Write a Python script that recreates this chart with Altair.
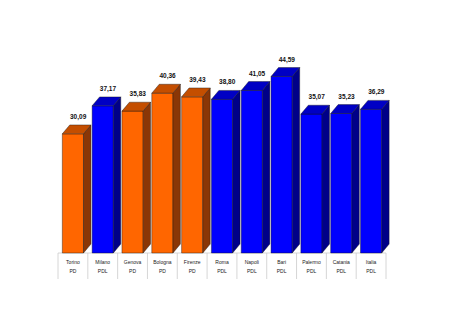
import altair as alt
import pandas as pd

cities = ["Torino", "Milano", "Genova", "Bologna", "Firenze", "Roma", "Napoli", "Bari", "Palermo", "Catania", "Italia"]
parties = ["PD", "PDL", "PD", "PD", "PD", "PDL", "PDL", "PDL", "PDL", "PDL", "PDL"]
values = [30.09, 37.17, 35.83, 40.36, 39.43, 38.80, 41.05, 44.59, 35.07, 35.23, 36.29]

colors = {
    "PD": {"front": "#FF6600", "side": "#8A3606", "top": "#C44E00"},
    "PDL": {"front": "#0000FF", "side": "#000088", "top": "#0000C4"},
}

half = 0.355   # half width of bar front (category units)
dx = 0.25      # depth in x (category units)
dy = 2.25      # depth in y (data units)

front_rows, face_rows, label_rows = [], [], []
for i, (c, p, v) in enumerate(zip(cities, parties, values)):
    L, R = i - half, i + half
    col = colors[p]
    front_rows.append({"x": L, "x2": R, "y": 0, "y2": v, "fill": col["front"]})
    face_rows += [
        {"g": f"s{i}", "x": R, "y": 0, "y2": v, "fill": col["side"]},
        {"g": f"s{i}", "x": R + dx, "y": dy, "y2": v + dy, "fill": col["side"]},
    ]
    face_rows += [
        {"g": f"t{i}", "x": L, "y": v, "y2": v, "fill": col["top"]},
        {"g": f"t{i}", "x": L + dx, "y": v, "y2": v + dy, "fill": col["top"]},
        {"g": f"t{i}", "x": R, "y": v, "y2": v + dy, "fill": col["top"]},
        {"g": f"t{i}", "x": R + dx, "y": v + dy, "y2": v + dy, "fill": col["top"]},
    ]
    label_rows.append({"x": i + dx / 2 + 0.05, "y": v + dy,
                       "t": f"{v:.2f}".replace(".", ",")})

front = pd.DataFrame(front_rows)
faces = pd.DataFrame(face_rows)
labels = pd.DataFrame(label_rows)
cats = pd.DataFrame({"x": list(range(len(cities))), "city": cities, "party": parties})
seps = pd.DataFrame({"x": [k - 0.5 for k in range(len(cities) + 1)]})
base_line = pd.DataFrame({"x": [-0.5], "x2": [len(cities) - 0.5]})

xs = alt.Scale(domain=[-0.5, len(cities) - 0.5], nice=False, zero=False)
ys = alt.Scale(domain=[0, 50], nice=False)

sep_layer = alt.Chart(seps).mark_rule(color="#cccccc", strokeWidth=0.8).encode(
    x=alt.X("x:Q", scale=xs, axis=None),
    y=alt.value(198),
    y2=alt.value(224),
)

base_layer = alt.Chart(base_line).mark_rule(color="#cccccc", strokeWidth=0.8).encode(
    x=alt.X("x:Q", scale=xs, axis=None),
    x2="x2:Q",
    y=alt.value(198),
)

front_layer = alt.Chart(front).mark_rect(stroke="#111111", strokeWidth=0.4).encode(
    x=alt.X("x:Q", scale=xs, axis=None),
    x2="x2:Q",
    y=alt.Y("y:Q", scale=ys, axis=None),
    y2="y2:Q",
    fill=alt.Fill("fill:N", scale=None),
)

face_layer = alt.Chart(faces).mark_area(
    stroke="#111111", strokeWidth=0.4, interpolate="linear", orient="vertical"
).encode(
    x=alt.X("x:Q", scale=xs, axis=None),
    y=alt.Y("y:Q", scale=ys, stack=None, axis=None),
    y2="y2:Q",
    detail="g:N",
    fill=alt.Fill("fill:N", scale=None),
)

label_layer = alt.Chart(labels).mark_text(
    font="Liberation Sans", fontSize=6.5, fontWeight="bold", color="#111111",
    baseline="bottom", dy=-5,
).encode(
    x=alt.X("x:Q", scale=xs, axis=None),
    y=alt.Y("y:Q", scale=ys, axis=None),
    text="t:N",
)

city_layer = alt.Chart(cats).mark_text(
    font="Liberation Sans", fontSize=5, color="#222222", baseline="middle",
).encode(
    x=alt.X("x:Q", scale=xs, axis=None),
    y=alt.value(207),
    text="city:N",
)

party_layer = alt.Chart(cats).mark_text(
    font="Liberation Sans", fontSize=5, color="#222222", baseline="middle",
).encode(
    x=alt.X("x:Q", scale=xs, axis=None),
    y=alt.value(216),
    text="party:N",
)

chart = alt.layer(
    sep_layer, base_layer, front_layer, face_layer, label_layer, city_layer, party_layer
).properties(
    width=328, height=198,
    autosize=alt.AutoSizeParams(type="none"),
    padding={"left": 58, "top": 55, "right": 64, "bottom": 65},
    background="white",
).configure_view(stroke=None)

chart.save("out.html", embed_options={"renderer": "svg", "actions": False})
